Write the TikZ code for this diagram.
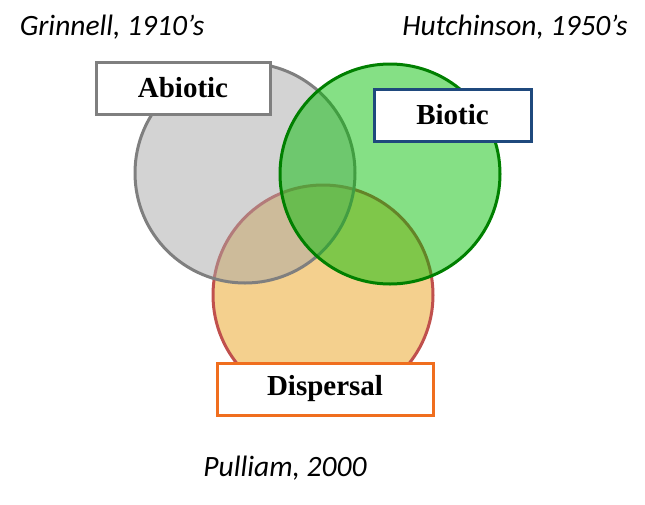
\documentclass[tikz,border=0pt]{standalone}
\usepackage{fontspec}
\setmainfont{Liberation Serif}
\newfontfamily\sanslabel{Carlito}
\usetikzlibrary{positioning}
\definecolor{dispfill}{RGB}{244,208,142}
\definecolor{displine}{RGB}{192,80,77}
\definecolor{abiofill}{RGB}{167,167,167}
\definecolor{abioline}{RGB}{127,127,127}
\definecolor{biofill}{RGB}{0,190,0}
\definecolor{bioline}{RGB}{0,128,0}
\definecolor{bioframe}{RGB}{31,73,125}
\definecolor{dispframe}{RGB}{240,110,30}
\tikzset{
  nichecircle/.style={circle, draw, line width=3, minimum size=220, inner sep=0},
  labelbox/.style={draw, fill=white, line width=3, minimum height=52, inner sep=0,
    font=\fontsize{29}{32}\selectfont\bfseries},
  authorlabel/.style={font=\sanslabel\itshape\fontsize{29.5}{32}\selectfont}
}

\begin{document}
\begin{tikzpicture}[x=1pt, y=-1pt]

  \useasboundingbox (0,0) rectangle (645,504);

  % The three sets
  \node[nichecircle, draw=displine, fill=dispfill] (dispersalset) at (323,295) {};
  \node[nichecircle, draw=abioline, fill=abiofill, fill opacity=0.5] (abioticset) at (245,173) {};
  \node[nichecircle, draw=bioline, fill=biofill, fill opacity=0.48] (bioticset) at (390,174) {};

  % Boxes with the names
  \node[labelbox, draw=abioline, minimum width=174] (abiotic) at (183,88) {Abiotic};
  \node[labelbox, draw=bioframe, minimum width=157] (biotic) at (452.5,115) {Biotic};
  \node[labelbox, draw=dispframe, minimum width=216] (dispersal) at (325,389) {Dispersal};

  % Who said it
  \node[authorlabel] (grinnell) at (112,27) {Grinnell, 1910’s};
  \node[authorlabel] (hutchinson) at (515,27) {Hutchinson, 1950’s};
  \node[authorlabel] (pulliam) at (285,468) {Pulliam, 2000};

\end{tikzpicture}
\end{document}
